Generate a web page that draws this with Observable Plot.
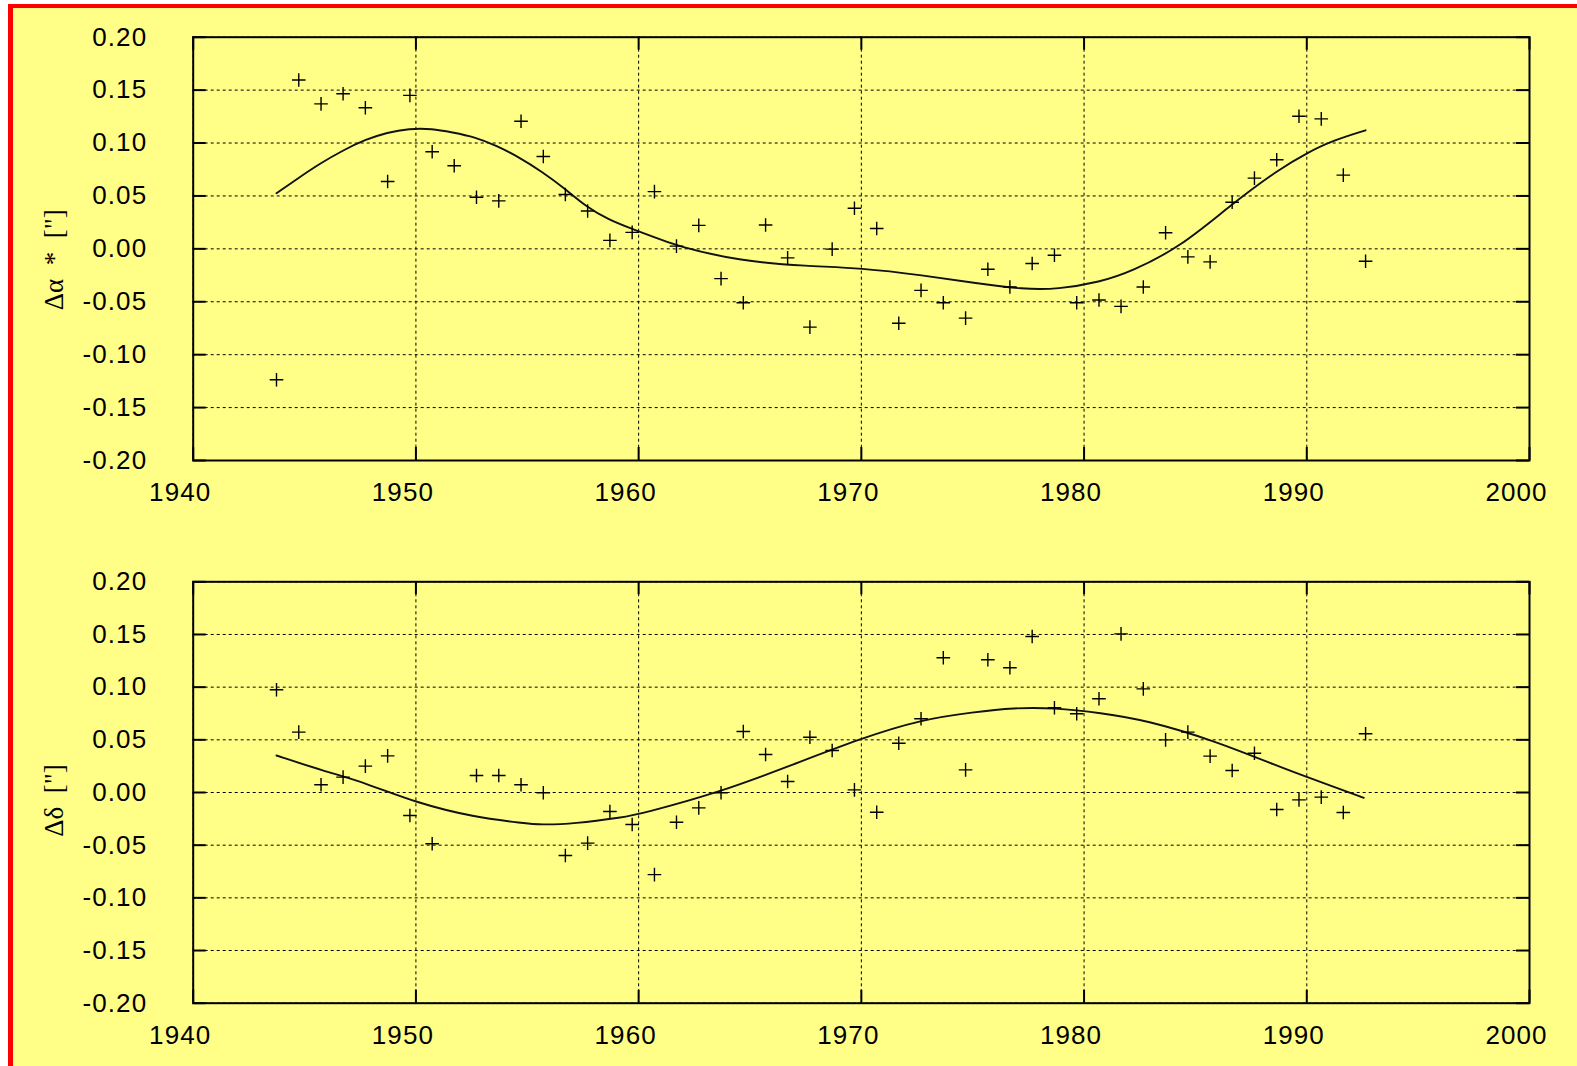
<!DOCTYPE html>
<html>
<head>
<meta charset="utf-8">
<script src="https://cdn.jsdelivr.net/npm/d3@7"></script>
<script src="https://cdn.jsdelivr.net/npm/@observablehq/plot@0.6"></script>
<style>
html, body { margin: 0; padding: 0; background: #ffffff; width: 1577px; height: 1066px; overflow: hidden; }
#panel { position: absolute; left: 8px; top: 4px; width: 1600px; height: 1100px; background: #ffff88;
  border-left: 5px solid #ff0000; border-top: 4px solid #ff0000; }
#top, #bottom { position: absolute; left: 0; }
#top { top: 0; }
#bottom { top: 533px; }
g[aria-label="y-axis tick label"] text, g[aria-label="x-axis tick label"] text { letter-spacing: 1.1px; }
</style>
</head>
<body>
<div id="panel"></div>
<div id="top"></div>
<div id="bottom"></div>
<script>
// ---- data ----
const epochs = [1943.74, 1944.74, 1945.74, 1946.73, 1947.73, 1948.73, 1949.73, 1950.73, 1951.72, 1952.72,
  1953.72, 1954.72, 1955.72, 1956.71, 1957.71, 1958.71, 1959.71, 1960.71, 1961.70, 1962.70,
  1963.70, 1964.70, 1965.70, 1966.69, 1967.69, 1968.69, 1969.69, 1970.69, 1971.68, 1972.68,
  1973.68, 1974.68, 1975.68, 1976.67, 1977.67, 1978.67, 1979.67, 1980.67, 1981.66, 1982.66,
  1983.66, 1984.66, 1985.66, 1986.65, 1987.65, 1988.65, 1989.65, 1990.65, 1991.64, 1992.64];

const dAlpha = [-0.1237, 0.1595, 0.137, 0.1466, 0.1333, 0.0636, 0.145, 0.0918, 0.0785, 0.0488,
  0.0453, 0.1206, 0.0873, 0.0513, 0.0358, 0.008, 0.0156, 0.0541, 0.0026, 0.0222,
  -0.0281, -0.0509, 0.0225, -0.0085, -0.074, -0.0003, 0.0383, 0.0193, -0.0703, -0.0392,
  -0.0509, -0.0655, -0.0193, -0.036, -0.0139, -0.006, -0.0509, -0.0483, -0.0544, -0.036,
  0.0152, -0.0076, -0.0123, 0.044, 0.0668, 0.0842, 0.1253, 0.1228, 0.0697, -0.0117];

const dDelta = [0.0975, 0.0573, 0.0073, 0.0146, 0.025, 0.0348, -0.0218, -0.0487, null, 0.0161,
  0.0161, 0.0073, -0.0003, -0.0598, -0.0481, -0.018, -0.0304, -0.078, -0.0282, -0.0146,
  -0.0003, 0.0579, 0.0361, 0.0104, 0.0525, 0.0399, 0.0025, -0.0187, 0.0468, 0.070,
  0.1279, 0.0215, 0.126, 0.1184, 0.1481, 0.0804, 0.0747, 0.089, 0.1506, 0.0984,
  0.050, 0.0573, 0.0345, 0.0209, 0.0373, -0.0161, -0.0070, -0.0044, -0.019, 0.0557];

const alphaCurveYears = [1943.74, 1944.71, 1945.72, 1946.72, 1947.72, 1948.72, 1949.68, 1950.73, 1951.63, 1952.63,
  1953.62, 1954.65, 1955.65, 1956.67, 1957.63, 1958.68, 1959.64, 1960.53, 1961.69, 1964.58,
  1967.57, 1969.96, 1972.8, 1975.05, 1977.3, 1978.8, 1980.74, 1982.09, 1984.34, 1986.58,
  1988.82, 1990.02, 1991.07, 1992.64];
const alphaCurveValues = [0.0526, 0.0668, 0.081, 0.093, 0.1032, 0.110, 0.1136, 0.1136, 0.110, 0.1058,
  0.0975, 0.0864, 0.0731, 0.0573, 0.040, 0.0272, 0.0194, 0.0124, 0.0026, -0.0117,
  -0.0164, -0.018, -0.025, -0.0322, -0.0383, -0.0383, -0.0313, -0.0218, 0.0019, 0.0415,
  0.0763, 0.0906, 0.1016, 0.112];

const deltaCurveYears = [1943.74, 1945.87, 1947.66, 1950.01, 1952.6, 1954.85, 1955.6, 1957.09, 1959.34, 1960.09,
  1963.65, 1966.82, 1970.04, 1972.7, 1975.05, 1976.85, 1978.64, 1980.74, 1982.84, 1985.83,
  1988.82, 1990.02, 1992.56];
const deltaCurveValues = [0.0351, 0.0203, 0.0098, -0.0098, -0.0234, -0.0291, -0.0307, -0.0297, -0.0234, -0.0203,
  0.0003, 0.0256, 0.0519, 0.0693, 0.0763, 0.0804, 0.0804, 0.0757, 0.0684, 0.0494,
  0.024, 0.0146, -0.005];

const xTicks = [1940, 1950, 1960, 1970, 1980, 1990, 2000];
const xTickLabels = ["1940", "1950", "1960", "1970", "1980", "1990", "2000"];
const yTicks = [-0.20, -0.15, -0.10, -0.05, 0.00, 0.05, 0.10, 0.15, 0.20];
const yTickLabels = ["-0.20", "-0.15", "-0.10", "-0.05", "0.00", "0.05", "0.10", "0.15", "0.20"];
const titleAlpha = "\u0394\u03b1  *  [\"]";
const titleDelta = "\u0394\u03b4  [\"]";

// ---- drawing ----
const W = 1577, H = 533;
const mL = 192.7, mR = 48;
const tickLen = 13;
const plusSymbol = {
  draw(ctx, size) {
    const r = Math.sqrt(size / Math.PI);
    ctx.moveTo(-r, 0); ctx.lineTo(r, 0);
    ctx.moveTo(0, -r); ctx.lineTo(0, r);
  }
};

function panel(values, curveYears, curveValues, title, mT, mB, titleDy) {
  const pts = epochs.map((e, i) => ({year: e, value: values[i]})).filter(d => d.value != null);
  const curve = curveYears.map((e, i) => ({year: e, value: curveValues[i]}));
  const fw = W - mL - mR, fh = H - mT - mB;
  return Plot.plot({
    width: W, height: H,
    marginLeft: mL, marginRight: mR, marginTop: mT, marginBottom: mB,
    style: {background: "transparent", fontFamily: "'Liberation Sans', Arial, sans-serif", fontSize: "26px", color: "black", overflow: "visible"},
    x: {domain: [1940, 2000]},
    y: {domain: [-0.2, 0.2]},
    marks: [
      Plot.gridX(xTicks, {stroke: "black", strokeOpacity: 1, strokeWidth: 1, strokeDasharray: "3,3"}),
      Plot.gridY(yTicks, {stroke: "black", strokeOpacity: 1, strokeWidth: 1, strokeDasharray: "3,3"}),
      Plot.tickY(yTicks, {y: d => d, insetRight: fw - tickLen, stroke: "black", strokeWidth: 2}),
      Plot.tickY(yTicks, {y: d => d, insetLeft: fw - tickLen, stroke: "black", strokeWidth: 2}),
      Plot.tickX(xTicks, {x: d => d, insetTop: fh - tickLen, stroke: "black", strokeWidth: 2}),
      Plot.tickX(xTicks, {x: d => d, insetBottom: fh - tickLen, stroke: "black", strokeWidth: 2}),
      Plot.axisY(yTicks, {tickSize: 0, tickPadding: 46, label: null, fontSize: 26,
        tickFormat: d => yTickLabels[yTicks.indexOf(d)]}),
      Plot.axisX(xTicks, {tickSize: 0, tickPadding: 22, label: null, fontSize: 26, dx: -13,
        tickFormat: d => xTickLabels[xTicks.indexOf(d)]}),
      Plot.line(curve, {x: "year", y: "value", curve: "basis", stroke: "#111", strokeWidth: 1.9}),
      Plot.dot(pts, {x: "year", y: "value", symbol: plusSymbol, r: 6.8, fill: "none", stroke: "black", strokeWidth: 1.4}),
      Plot.text([title], {frameAnchor: "left", text: d => d, rotate: -90, dx: -139, dy: titleDy,
        textAnchor: "middle", lineAnchor: "middle",
        fontFamily: "'Liberation Serif', 'DejaVu Serif', serif", fontSize: 27, fill: "black"}),
      Plot.frame({stroke: "black", strokeWidth: 2})
    ]
  });
}

document.getElementById("top").appendChild(panel(dAlpha, alphaCurveYears, alphaCurveValues, titleAlpha, 36.7, 73, 11));
document.getElementById("bottom").appendChild(panel(dDelta, deltaCurveYears, deltaCurveValues, titleDelta, 48.3, 63.3, 8));
</script>
</body>
</html>
